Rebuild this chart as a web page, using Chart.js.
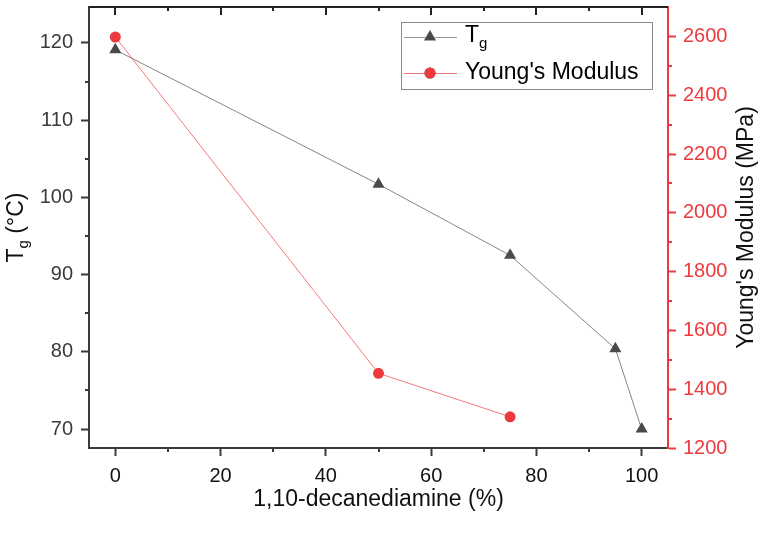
<!DOCTYPE html>
<html>
<head>
<meta charset="utf-8">
<script src="https://cdn.jsdelivr.net/npm/chart.js@4"></script>
<style>
  html, body { margin: 0; padding: 0; background: #fff; }
  canvas { display: block; }
</style>
</head>
<body>
<canvas id="chart" width="762" height="546"></canvas>
<script>
// Data
const tgPercent = [0, 50, 75, 95, 100];
const tgValues = [119.1, 101.7, 92.5, 80.4, 70.0];
const modulusPercent = [0, 50, 75];
const modulusValues = [2598, 1454, 1306];

// Tick labels
const xTicks = [0, 20, 40, 60, 80, 100];
const xMinorTicks = [10, 30, 50, 70, 90];
const tgTicks = [70, 80, 90, 100, 110, 120];
const tgMinorTicks = [75, 85, 95, 105, 115];
const modulusTicks = [1200, 1400, 1600, 1800, 2000, 2200, 2400, 2600];
const modulusMinorTicks = [1300, 1500, 1700, 1900, 2100, 2300, 2500];

const FONT = '"Liberation Sans", Arial, sans-serif';
const RED = '#ee3a3f';
const DARK = '#3a3a3a';

// Extra drawing: minor ticks, top frame, rotated titles, legend
const decorations = {
    id: 'decorations',
    afterDraw(chart) {
        const ctx = chart.ctx;
        const area = chart.chartArea;
        const x = chart.scales.x, y = chart.scales.y, y1 = chart.scales.y1;
        ctx.save();

        // top frame line with inward ticks
        ctx.strokeStyle = '#222';
        ctx.lineWidth = 2;
        ctx.beginPath();
        ctx.moveTo(area.left, area.top);
        ctx.lineTo(area.right, area.top);
        xTicks.forEach(v => {
            const px = Math.round(x.getPixelForValue(v));
            ctx.moveTo(px, area.top);
            ctx.lineTo(px, area.top + 8);
        });
        xMinorTicks.forEach(v => {
            const px = Math.round(x.getPixelForValue(v));
            ctx.moveTo(px, area.top);
            ctx.lineTo(px, area.top + 4);
        });
        ctx.stroke();

        // bottom minor ticks
        ctx.strokeStyle = DARK;
        ctx.beginPath();
        xMinorTicks.forEach(v => {
            const px = Math.round(x.getPixelForValue(v));
            ctx.moveTo(px, area.bottom);
            ctx.lineTo(px, area.bottom + 4);
        });
        // left minor ticks
        tgMinorTicks.forEach(v => {
            const py = Math.round(y.getPixelForValue(v));
            ctx.moveTo(area.left, py);
            ctx.lineTo(area.left - 4, py);
        });
        ctx.stroke();

        // right minor ticks
        ctx.strokeStyle = RED;
        ctx.beginPath();
        modulusMinorTicks.forEach(v => {
            const py = Math.round(y1.getPixelForValue(v));
            ctx.moveTo(area.right, py);
            ctx.lineTo(area.right + 4, py);
        });
        ctx.stroke();

        const midY = (area.top + area.bottom) / 2;

        // left title: T_g (°C)
        ctx.save();
        ctx.translate(17, midY);
        ctx.rotate(-Math.PI / 2);
        ctx.fillStyle = '#111';
        ctx.textBaseline = 'middle';
        ctx.font = '23px ' + FONT;
        const wT = ctx.measureText('T').width;
        ctx.font = '15px ' + FONT;
        const wG = ctx.measureText('g').width;
        ctx.font = '23px ' + FONT;
        const wRest = ctx.measureText(' (°C)').width;
        let cx = -(wT + wG + wRest) / 2;
        ctx.textAlign = 'left';
        ctx.fillText('T', cx, 0);
        cx += wT;
        ctx.font = '15px ' + FONT;
        ctx.fillText('g', cx, 7);
        cx += wG;
        ctx.font = '23px ' + FONT;
        ctx.fillText(' (°C)', cx, 0);
        ctx.restore();

        // right title
        ctx.save();
        ctx.translate(747, midY);
        ctx.rotate(-Math.PI / 2);
        ctx.fillStyle = '#111';
        ctx.textAlign = 'center';
        ctx.textBaseline = 'middle';
        ctx.font = '23px ' + FONT;
        ctx.fillText("Young's Modulus (MPa)", 0, 0);
        ctx.restore();

        // legend
        const lx = 401, ly = 22, lw = 251, lh = 67;
        ctx.fillStyle = '#fff';
        ctx.fillRect(lx, ly, lw, lh);
        ctx.strokeStyle = '#8a8a8a';
        ctx.lineWidth = 1;
        ctx.strokeRect(lx + 0.5, ly + 0.5, lw, lh);

        const rows = [
            { y: 37, line: '#9a9a9a', ds: 0 },
            { y: 73, line: '#f27a7a', ds: 1 }
        ];
        rows.forEach(r => {
            ctx.strokeStyle = r.line;
            ctx.lineWidth = 1;
            ctx.beginPath();
            ctx.moveTo(404, r.y + 0.5);
            ctx.lineTo(457, r.y + 0.5);
            ctx.stroke();
            const d = chart.data.datasets[r.ds];
            Chart.helpers.drawPoint(ctx, {
                pointStyle: d.pointStyle,
                radius: d.pointRadius,
                borderWidth: 0
            }, 430, r.y);
            ctx.fillStyle = d.pointBackgroundColor;
            ctx.fill();
        });
        ctx.fillStyle = '#000';
        ctx.textAlign = 'left';
        ctx.textBaseline = 'middle';
        ctx.font = '23px ' + FONT;
        ctx.fillText('T', 465, 36);
        const tW = ctx.measureText('T').width;
        ctx.font = '15px ' + FONT;
        ctx.fillText('g', 465 + tW, 44);
        ctx.font = '23px ' + FONT;
        ctx.fillText("Young's Modulus", 465, 73);

        ctx.restore();
    }
};

const tgData = tgPercent.map((v, i) => ({ x: v, y: tgValues[i] }));
const modulusData = modulusPercent.map((v, i) => ({ x: v, y: modulusValues[i] }));

const plainLabel = v => String(v);

new Chart(document.getElementById('chart'), {
    type: 'line',
    data: {
        datasets: [
            {
                label: 'Tg',
                data: tgData,
                yAxisID: 'y',
                borderColor: '#858585',
                borderWidth: 1,
                pointStyle: 'triangle',
                pointRadius: 7,
                pointBackgroundColor: '#4a4a4a',
                pointBorderColor: '#4a4a4a',
                pointBorderWidth: 0,
                tension: 0
            },
            {
                label: "Young's Modulus",
                data: modulusData,
                yAxisID: 'y1',
                borderColor: '#f27a7a',
                borderWidth: 1,
                pointStyle: 'circle',
                pointRadius: 5.5,
                pointBackgroundColor: RED,
                pointBorderColor: RED,
                pointBorderWidth: 0,
                tension: 0
            }
        ]
    },
    options: {
        responsive: false,
        animation: false,
        layout: { padding: { top: 3 } },
        plugins: {
            legend: { display: false },
            tooltip: { enabled: false }
        },
        scales: {
            x: {
                type: 'linear',
                min: -5,
                max: 105,
                afterBuildTicks: s => { s.ticks = xTicks.map(v => ({ value: v })); },
                afterFit: s => { s.height = 98; s.paddingLeft = 0; s.paddingRight = 0; },
                ticks: { color: '#111', font: { family: FONT, size: 20 }, padding: 8, callback: plainLabel },
                grid: { drawOnChartArea: false, tickLength: 8, tickWidth: 2, tickColor: DARK },
                border: { color: DARK, width: 2 },
                title: {
                    display: true,
                    text: '1,10-decanediamine (%)',
                    color: '#111',
                    font: { family: FONT, size: 23 },
                    padding: { top: 0, bottom: 33 }
                }
            },
            y: {
                type: 'linear',
                position: 'left',
                min: 67.55,
                max: 124.65,
                afterBuildTicks: s => { s.ticks = tgTicks.map(v => ({ value: v })); },
                afterFit: s => { s.width = 89; s.paddingTop = 0; s.paddingBottom = 0; },
                ticks: { color: '#3a3a3a', font: { family: FONT, size: 20 }, padding: 8, callback: plainLabel },
                grid: { drawOnChartArea: false, tickLength: 8, tickWidth: 2, tickColor: DARK },
                border: { color: DARK, width: 2 }
            },
            y1: {
                type: 'linear',
                position: 'right',
                min: 1200,
                max: 2700,
                afterBuildTicks: s => { s.ticks = modulusTicks.map(v => ({ value: v })); },
                afterFit: s => { s.width = 94; s.paddingTop = 0; s.paddingBottom = 0; },
                ticks: { color: RED, font: { family: FONT, size: 20 }, padding: 7, callback: plainLabel },
                grid: { drawOnChartArea: false, tickLength: 8, tickWidth: 2, tickColor: RED },
                border: { color: RED, width: 2 }
            }
        }
    },
    plugins: [decorations]
});
</script>
</body>
</html>
